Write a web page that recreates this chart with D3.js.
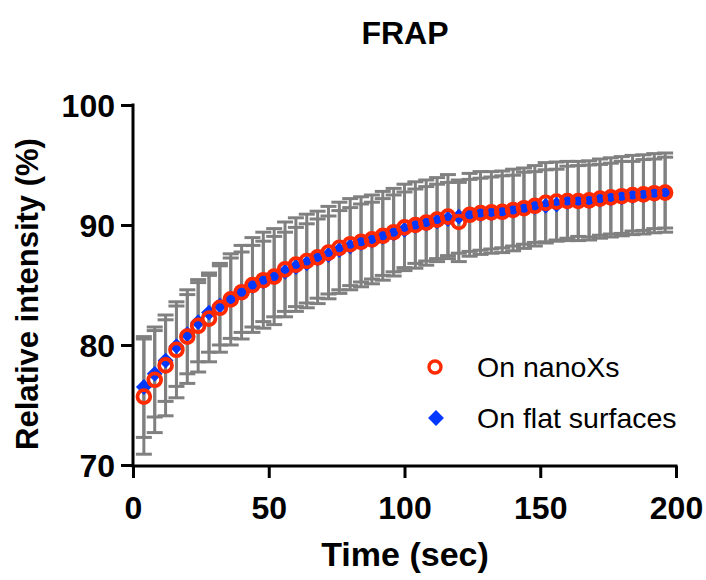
<!DOCTYPE html>
<html>
<head>
<meta charset="utf-8">
<script src="https://cdn.jsdelivr.net/npm/d3@7"></script>
<style>
  html, body { margin: 0; padding: 0; background: #fff; }
  svg { display: block; }
  text { font-family: "Liberation Sans", Arial, sans-serif; }
</style>
</head>
<body>
<svg id="chart" width="706" height="580"></svg>
<script>
// ---- Data ----
const time = [4,8,12,16,20,24,28,32,36,40,44,48,52,56,60,64,68,72,76,80,84,88,92,96,100,
  104,108,112,116,120,124,128,132,136,140,144,148,152,156,160,164,168,172,176,180,184,188,192,196];

const nanoXs = [75.7,77.1,78.3,79.6,80.7,81.6,82.2,83.1,83.8,84.4,85.0,85.4,85.7,86.3,86.7,87.0,
  87.3,87.7,88.1,88.4,88.6,88.8,89.1,89.4,89.8,90.0,90.2,90.45,90.7,90.25,90.85,91.0,91.05,91.1,
  91.25,91.4,91.6,91.85,91.95,92.0,92.0,92.05,92.2,92.3,92.4,92.5,92.55,92.65,92.7];
const nanoXsSD = [4.8,4.4,4.2,4.0,3.9,3.85,3.6,3.7,3.8,3.9,3.95,4.0,4.0,3.95,3.9,3.9,3.85,3.85,
  3.8,3.8,3.75,3.7,3.7,3.65,3.6,3.6,3.55,3.5,3.5,3.3,3.45,3.45,3.4,3.4,3.4,3.35,3.35,3.35,3.3,
  3.3,3.3,3.3,3.3,3.3,3.3,3.3,3.3,3.3,3.3];

const flat = [76.5,77.6,78.7,79.9,80.9,81.9,82.7,83.3,83.9,84.4,84.9,85.3,85.7,86.1,86.5,86.8,
  87.2,87.5,87.9,88.2,88.5,88.7,89.0,89.3,89.6,89.9,90.1,90.3,90.5,90.7,90.8,90.9,91.0,91.1,
  91.2,91.4,91.5,91.6,91.7,91.9,92.0,92.0,92.1,92.2,92.3,92.4,92.5,92.6,92.7];
const flatSD = [4.2,3.6,3.4,3.35,3.3,3.3,3.3,3.3,3.35,3.35,3.4,3.35,3.35,3.3,3.3,3.3,3.3,3.25,
  3.3,3.25,3.25,3.2,3.2,3.2,3.15,3.1,3.1,3.1,3.05,3.05,3.0,3.0,3.0,3.0,2.95,3.0,2.95,3.0,2.95,
  3.0,2.95,3.0,2.95,2.95,3.0,2.9,2.95,2.9,2.95];

const xTicks = [0, 50, 100, 150, 200];
const yTicks = [70, 80, 90, 100];
const seriesNames = ["On nanoXs", "On flat surfaces"];
const titleText = "FRAP";
const xLabel = "Time (sec)";
const yLabel = "Relative intensity (%)";

// ---- Layout ----
const svg = d3.select("#chart");
const x = d3.scaleLinear().domain([0, 200]).range([133, 676]);
const y = d3.scaleLinear().domain([70, 100]).range([465, 105]);

const red = "#ff2a00", blue = "#0038ff", gray = "#808080";

const series = [
  { name: seriesNames[0], vals: nanoXs, sd: nanoXsSD },
  { name: seriesNames[1], vals: flat, sd: flatSD }
];

// Error bars
const capW = 8;
const eb = svg.append("g").attr("stroke", gray).attr("stroke-width", 3).attr("fill", "none");
series.forEach(s => {
  time.forEach((t, i) => {
    const cx = x(t), hi = y(s.vals[i] + s.sd[i]), lo = y(s.vals[i] - s.sd[i]);
    eb.append("line").attr("x1", cx).attr("x2", cx).attr("y1", hi).attr("y2", lo);
    eb.append("line").attr("x1", cx - capW).attr("x2", cx + capW).attr("y1", hi).attr("y2", hi);
    eb.append("line").attr("x1", cx - capW).attr("x2", cx + capW).attr("y1", lo).attr("y2", lo);
  });
});

// Blue diamonds
const diamond = d3.symbol().type(d3.symbolDiamond2).size(160);
svg.append("g").selectAll("path").data(time).join("path")
  .attr("d", diamond)
  .attr("transform", (t, i) => `translate(${x(t)},${y(flat[i])})`)
  .attr("fill", blue);

// Red circles
svg.append("g").selectAll("circle").data(time).join("circle")
  .attr("cx", t => x(t))
  .attr("cy", (t, i) => y(nanoXs[i]))
  .attr("r", 6.4)
  .attr("fill", "none")
  .attr("stroke", red)
  .attr("stroke-width", 3.8);

// Axes
const xAxis = svg.append("g").attr("transform", "translate(0,466)")
  .call(d3.axisBottom(x).tickValues(xTicks).tickSize(12).tickPadding(18).tickFormat(d3.format("d")));
const yAxis = svg.append("g").attr("transform", "translate(133,0)")
  .call(d3.axisLeft(y).tickValues(yTicks).tickSize(12).tickPadding(6).tickFormat(d3.format("d")));

[xAxis, yAxis].forEach(g => {
  g.selectAll(".tick line").attr("stroke", "#000").attr("stroke-width", 3);
  g.selectAll(".tick text").attr("fill", "#000")
    .style("font-size", "32px").style("font-weight", "bold")
    .style("font-family", "'Liberation Sans', Arial, sans-serif");
});
xAxis.select(".domain").attr("stroke", "#000").attr("stroke-width", 3).attr("fill", "none")
  .attr("d", `M${x(0) - 1.5},0H${x(200) + 1.5}`);
yAxis.select(".domain").attr("stroke", "#000").attr("stroke-width", 3).attr("fill", "none")
  .attr("d", `M0,${y(70) + 1.5}V${y(100) - 1.5}`);
xAxis.selectAll(".tick text").attr("dy", "0.71em");
yAxis.selectAll(".tick text").attr("dy", "0.36em");

// Title and labels
svg.append("text").attr("x", 405).attr("y", 44).attr("text-anchor", "middle")
  .style("font-size", "32px").style("font-weight", "bold").text(titleText);
svg.append("text").attr("x", 405).attr("y", 566).attr("text-anchor", "middle")
  .style("font-size", "34px").style("font-weight", "bold").text(xLabel);
svg.append("text").attr("transform", "translate(38,294) rotate(-90)").attr("text-anchor", "middle")
  .style("font-size", "31px").style("font-weight", "bold").text(yLabel);

// Legend
const leg = svg.append("g");
leg.append("circle").attr("cx", 435).attr("cy", 367).attr("r", 6)
  .attr("fill", "none").attr("stroke", red).attr("stroke-width", 3.4);
leg.append("path").attr("d", diamond).attr("transform", "translate(436,418)").attr("fill", blue);
leg.append("text").attr("x", 477).attr("y", 377).style("font-size", "28.5px").text(seriesNames[0]);
leg.append("text").attr("x", 477).attr("y", 428).style("font-size", "28.5px").text(seriesNames[1]);
</script>
</body>
</html>
